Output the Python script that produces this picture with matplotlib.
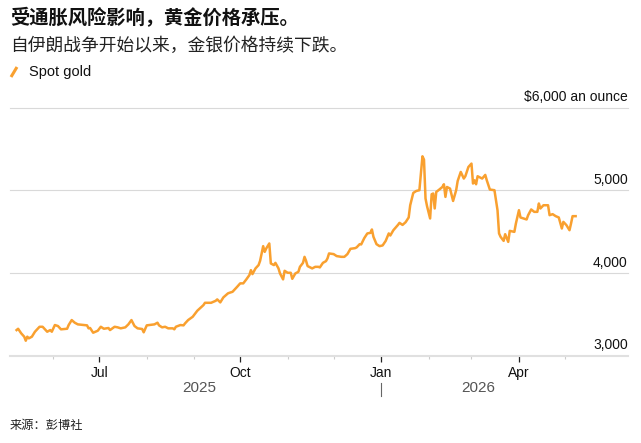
import numpy as np
import matplotlib.pyplot as plt
import matplotlib.dates as mdates
import matplotlib.transforms as mtransforms
from matplotlib.lines import Line2D

# Spot gold (USD per ounce)
dates = [
    '2025-05-08', '2025-05-09', '2025-05-11', '2025-05-13', '2025-05-14', '2025-05-15',
    '2025-05-16', '2025-05-18', '2025-05-20', '2025-05-21', '2025-05-23', '2025-05-25',
    '2025-05-28', '2025-05-30', '2025-05-31', '2025-06-02', '2025-06-04', '2025-06-06',
    '2025-06-10', '2025-06-11', '2025-06-13', '2025-06-15', '2025-06-17', '2025-06-23',
    '2025-06-24', '2025-06-25', '2025-06-27', '2025-06-30', '2025-07-02', '2025-07-04',
    '2025-07-07', '2025-07-08', '2025-07-11', '2025-07-13', '2025-07-15', '2025-07-18',
    '2025-07-20', '2025-07-22', '2025-07-24', '2025-07-26', '2025-07-29', '2025-07-30',
    '2025-08-01', '2025-08-04', '2025-08-06', '2025-08-08', '2025-08-09', '2025-08-11',
    '2025-08-13', '2025-08-15', '2025-08-18', '2025-08-19', '2025-08-20', '2025-08-23',
    '2025-08-25', '2025-08-26', '2025-08-28', '2025-08-31', '2025-09-03', '2025-09-04',
    '2025-09-07', '2025-09-08', '2025-09-12', '2025-09-15', '2025-09-16', '2025-09-18',
    '2025-09-20', '2025-09-23', '2025-09-24', '2025-09-26', '2025-09-29', '2025-10-01',
    '2025-10-03', '2025-10-05', '2025-10-07', '2025-10-08', '2025-10-09', '2025-10-11',
    '2025-10-13', '2025-10-14', '2025-10-16', '2025-10-17', '2025-10-18', '2025-10-20',
    '2025-10-21', '2025-10-23', '2025-10-24', '2025-10-26', '2025-10-27', '2025-10-29',
    '2025-10-30', '2025-11-01', '2025-11-03', '2025-11-04', '2025-11-06', '2025-11-08',
    '2025-11-09', '2025-11-11', '2025-11-12', '2025-11-13', '2025-11-14', '2025-11-17',
    '2025-11-19', '2025-11-21', '2025-11-22', '2025-11-24', '2025-11-26', '2025-11-27',
    '2025-11-28', '2025-12-01', '2025-12-03', '2025-12-06', '2025-12-08', '2025-12-10',
    '2025-12-12', '2025-12-15', '2025-12-16', '2025-12-18', '2025-12-19', '2025-12-21',
    '2025-12-23', '2025-12-25', '2025-12-26', '2025-12-27', '2025-12-29', '2025-12-31',
    '2026-01-02', '2026-01-04', '2026-01-06', '2026-01-07', '2026-01-09', '2026-01-12',
    '2026-01-13', '2026-01-15', '2026-01-17', '2026-01-19', '2026-01-20', '2026-01-22',
    '2026-01-24', '2026-01-26', '2026-01-27', '2026-01-28', '2026-01-29', '2026-01-30',
    '2026-01-31', '2026-02-02', '2026-02-03', '2026-02-04', '2026-02-05', '2026-02-06',
    '2026-02-08', '2026-02-10', '2026-02-11', '2026-02-12', '2026-02-13', '2026-02-15',
    '2026-02-17', '2026-02-19', '2026-02-20', '2026-02-22', '2026-02-24', '2026-02-25',
    '2026-02-27', '2026-03-01', '2026-03-02', '2026-03-03', '2026-03-04', '2026-03-05',
    '2026-03-08', '2026-03-10', '2026-03-11', '2026-03-13', '2026-03-16', '2026-03-18',
    '2026-03-19', '2026-03-20', '2026-03-22', '2026-03-23', '2026-03-25', '2026-03-26',
    '2026-03-29', '2026-03-30', '2026-04-01', '2026-04-02', '2026-04-06', '2026-04-07',
    '2026-04-09', '2026-04-11', '2026-04-13', '2026-04-14', '2026-04-15', '2026-04-17',
    '2026-04-20', '2026-04-21', '2026-04-23', '2026-04-25', '2026-04-27', '2026-04-29',
    '2026-04-30', '2026-05-02', '2026-05-04', '2026-05-05', '2026-05-06', '2026-05-08',
]
prices = [
    3310, 3326, 3271, 3230, 3181, 3230,
    3210, 3230, 3290, 3310, 3350, 3350,
    3290, 3310, 3290, 3371, 3359, 3319,
    3326, 3371, 3431, 3399, 3379, 3367,
    3331, 3335, 3278, 3302, 3350, 3326,
    3335, 3310, 3350, 3343, 3331, 3343,
    3379, 3431, 3359, 3331, 3323, 3283,
    3367, 3374, 3379, 3399, 3367, 3343,
    3350, 3331, 3331, 3319, 3350, 3371,
    3367, 3391, 3431, 3471, 3544, 3561,
    3612, 3640, 3640, 3664, 3681, 3645,
    3705, 3754, 3761, 3773, 3833, 3875,
    3875, 3923, 3975, 4035, 3987, 4056,
    4096, 4148, 4325, 4256, 4297, 4358,
    4116, 4096, 4123, 4056, 3995, 3923,
    4027, 4003, 4003, 3930, 3995, 4015,
    4075, 4123, 4196, 4148, 4084, 4056,
    4075, 4075, 4068, 4123, 4144, 4177,
    4237, 4229, 4205, 4196, 4196, 4229,
    4293, 4301, 4310, 4349, 4346, 4422,
    4479, 4486, 4527, 4438, 4349, 4325,
    4334, 4389, 4479, 4454, 4518, 4582,
    4607, 4582, 4615, 4672, 4820, 4969,
    4993, 5002, 5211, 5412, 5372, 4901,
    4808, 4660, 4953, 4962, 4781, 4981,
    5010, 5041, 5074, 4921, 5041, 5022,
    4872, 5002, 5114, 5223, 5143, 5171,
    5283, 5324, 5083, 5122, 5074, 5171,
    5143, 5187, 5122, 5010, 5002, 4760,
    4479, 4438, 4389, 4470, 4377, 4510,
    4498, 4599, 4760, 4672, 4648, 4700,
    4769, 4740, 4740, 4841, 4781, 4820,
    4820, 4700, 4712, 4688, 4672, 4539,
    4619, 4579, 4518, 4599, 4688, 4688,
]

title = '受通胀风险影响，黄金价格承压。'
subtitle = '自伊朗战争开始以来，金银价格持续下跌。'
series_name = 'Spot gold'
source = '来源：彭博社'
y_ticks = [3000, 4000, 5000, 6000]
y_labels = ['3,000', '4,000', '5,000', '$6,000 an ounce']
major_months = ['2025-07-01', '2025-10-01', '2026-01-01', '2026-04-01']
major_labels = ['Jul', 'Oct', 'Jan', 'Apr']
minor_months = ['2025-06-01', '2025-08-01', '2025-09-01', '2025-11-01',
                '2025-12-01', '2026-02-01', '2026-03-01', '2026-05-01']
years = ['2025', '2026']
year_break = '2026-01-01'

GOLD = '#f9a02f'
cjk = ['Noto Sans CJK SC', 'DejaVu Sans']
latin = ['Liberation Sans', 'DejaVu Sans']
plt.rcParams['font.family'] = latin

x = np.array(dates, dtype='datetime64[D]')
y = np.array(prices)

W, H = 641, 443
fig = plt.figure(figsize=(W / 100, H / 100), dpi=100)
ax = fig.add_axes([10 / W, 1 - 355.7 / H, (627.7 - 10) / W, (355.7 - 107.7) / H])

ax.plot(x, y, color=GOLD, lw=1.8, solid_joinstyle='round', zorder=3)
ax.set_xlim(np.datetime64('2025-05-03T17:00'), np.datetime64('2026-06-11T00:00'))
ax.set_ylim(3000, 6000)

for s in ax.spines.values():
    s.set_visible(False)
ax.set_yticks([])

# gridlines + baseline
for v in y_ticks[1:]:
    ax.axhline(v, color='#d9d9d9', lw=0.8, clip_on=False, zorder=1)
ax.axhline(y_ticks[0], color='#e0e0e0', lw=1.5, clip_on=False, zorder=2)

# right-side value labels sitting on the gridlines
for v, lab in zip(y_ticks, y_labels):
    ax.annotate(lab, xy=(1, v), xycoords=('axes fraction', 'data'),
                xytext=(0, 4.6), textcoords='offset points',
                ha='right', va='baseline', fontsize=10, color='#111')

# x axis ticks
ax.set_xticks(np.array(major_months, dtype='datetime64[D]'))
ax.set_xticklabels(major_labels)
ax.set_xticks(np.array(minor_months, dtype='datetime64[D]'), minor=True)
ax.tick_params(axis='x', which='major', length=4.3, width=0.9, color='#222',
               pad=2.8, labelsize=10, labelcolor='#111')
ax.tick_params(axis='x', which='minor', length=2.3, width=0.8, color='#cccccc')

# year labels, centred on each year's stretch of data
trans = mtransforms.blended_transform_factory(ax.transData, ax.transAxes)
jan = mdates.date2num(np.datetime64(year_break))
first = mdates.date2num(x[0])
last = mdates.date2num(x[-1])
ax_h = 355.7 - 107.7
yl = -(387.7 - 355.7) / ax_h
ax.text((first + jan) / 2, yl, years[0], transform=trans, ha='center', va='center',
        fontsize=11, color='#555')
ax.text((jan + last) / 2, yl, years[1], transform=trans, ha='center', va='center',
        fontsize=11, color='#555')
ax.plot([jan, jan], [-(383 - 355.7) / ax_h, -(395.7 - 355.7) / ax_h], transform=trans,
        color='#666', lw=0.8, clip_on=False)

# header
fig.text(10 / W, 1 - 18.5 / H, title, fontsize=13.9, fontweight='bold', family=cjk,
         va='center', color='#111')
fig.text(10 / W, 1 - 45.5 / H, subtitle, fontsize=12.8, family=cjk, va='center', color='#222')

# legend
fig.add_artist(Line2D([11 / W, 17 / W], [1 - 77 / H, 1 - 67 / H], color=GOLD, lw=2.2,
                      solid_capstyle='butt'))
fig.text(29 / W, 1 - 75.7 / H, series_name, fontsize=10.5, va='baseline', color='#111')

# source
fig.text(10 / W, 1 - 425 / H, source, fontsize=8.8, family=cjk, va='center', color='#222')

fig.savefig('out.png', dpi=100)
